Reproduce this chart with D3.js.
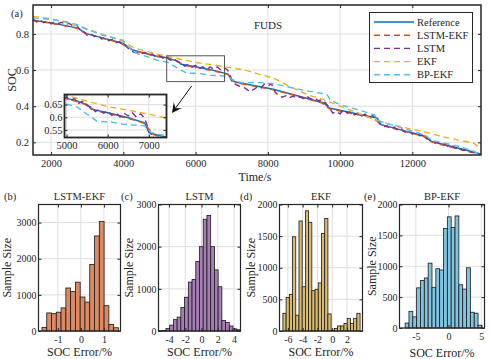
<!DOCTYPE html>
<html>
<head>
<meta charset="utf-8">
<script src="https://cdn.jsdelivr.net/npm/d3@7"></script>
<style>
  body { margin: 0; background: #fff; }
  svg { font-family: "Liberation Serif", "Times New Roman", serif; }
</style>
</head>
<body>
<script>
// ---- data ----
const legendNames = ["Reference", "LSTM-EKF", "LSTM", "EKF", "BP-EKF"];

const refTime = [1500, 2000, 2750, 2950, 4000, 4250, 4900, 5200, 5500, 5600, 6000, 6500, 6900, 7000, 7200, 8150, 9550, 9700, 11030, 11130, 12370, 12510, 13800, 13900];
const refSoc = [0.876, 0.861, 0.832, 0.803, 0.748, 0.712, 0.678, 0.668, 0.650, 0.632, 0.618, 0.598, 0.578, 0.540, 0.530, 0.494, 0.418, 0.390, 0.334, 0.298, 0.233, 0.206, 0.141, 0.132];

const fineTime = [1500, 1700, 1900, 2100, 2300, 2500, 2700, 2900, 3100, 3300, 3500, 3700, 3900, 4100, 4300, 4500, 4700, 4900, 5100, 5300, 5500, 5700, 5900, 6100, 6300, 6500, 6700, 6900, 7100, 7300, 7500, 7700, 7900, 8100, 8300, 8500, 8700, 8900, 9100, 9300, 9500, 9700, 9900, 10100, 10300, 10500, 10700, 10900, 11100, 11300, 11500, 11700, 11900, 12100, 12300, 12500, 12700, 12900, 13100, 13300, 13500, 13700, 13900];
const lstmEkfSoc = [0.874, 0.869, 0.862, 0.855, 0.848, 0.840, 0.832, 0.808, 0.796, 0.783, 0.772, 0.762, 0.750, 0.730, 0.707, 0.697, 0.686, 0.676, 0.669, 0.660, 0.647, 0.626, 0.619, 0.612, 0.603, 0.595, 0.586, 0.575, 0.532, 0.523, 0.516, 0.508, 0.500, 0.493, 0.483, 0.472, 0.462, 0.451, 0.440, 0.429, 0.418, 0.386, 0.377, 0.369, 0.361, 0.352, 0.344, 0.335, 0.305, 0.286, 0.276, 0.265, 0.255, 0.244, 0.234, 0.205, 0.192, 0.182, 0.172, 0.162, 0.152, 0.142, 0.130];

const lstmTime = [1500, 1600, 1700, 1800, 1900, 2000, 2100, 2200, 2300, 2400, 2500, 2600, 2700, 2800, 2900, 3000, 3100, 3200, 3300, 3400, 3500, 3600, 3700, 3800, 3900, 4000, 4100, 4200, 4300, 4400, 4500, 4600, 4700, 4800, 4900, 5000, 5100, 5200, 5300, 5400, 5500, 5600, 5700, 5800, 5900, 6000, 6100, 6200, 6300, 6400, 6500, 6600, 6700, 6800, 6900, 7000, 7100, 7200, 7300, 7400, 7500, 7600, 7700, 7800, 7900, 8000, 8100, 8200, 8300, 8400, 8500, 8600, 8700, 8800, 8900, 9000, 9100, 9200, 9300, 9400, 9500, 9600, 9700, 9800, 9900, 10000, 10100, 10200, 10300, 10400, 10500, 10600, 10700, 10800, 10900, 11000, 11100, 11200, 11300, 11400, 11500, 11600, 11700, 11800, 11900, 12000, 12100, 12200, 12300, 12400, 12500, 12600, 12700, 12800, 12900, 13000, 13100, 13200, 13300, 13400, 13500, 13600, 13700, 13800, 13900];
const lstmSoc = [0.882, 0.866, 0.878, 0.862, 0.874, 0.856, 0.866, 0.858, 0.864, 0.852, 0.858, 0.846, 0.850, 0.822, 0.814, 0.792, 0.801, 0.786, 0.793, 0.772, 0.779, 0.763, 0.770, 0.751, 0.757, 0.742, 0.726, 0.708, 0.698, 0.696, 0.690, 0.698, 0.682, 0.690, 0.672, 0.681, 0.666, 0.676, 0.655, 0.664, 0.646, 0.640, 0.622, 0.632, 0.616, 0.626, 0.608, 0.618, 0.602, 0.616, 0.605, 0.618, 0.600, 0.614, 0.596, 0.548, 0.522, 0.512, 0.508, 0.496, 0.480, 0.492, 0.505, 0.498, 0.522, 0.512, 0.524, 0.478, 0.458, 0.450, 0.458, 0.446, 0.456, 0.444, 0.452, 0.440, 0.452, 0.438, 0.446, 0.430, 0.436, 0.418, 0.392, 0.362, 0.370, 0.358, 0.380, 0.362, 0.372, 0.352, 0.364, 0.346, 0.356, 0.338, 0.348, 0.330, 0.302, 0.286, 0.292, 0.276, 0.284, 0.266, 0.274, 0.256, 0.262, 0.246, 0.254, 0.236, 0.241, 0.220, 0.212, 0.196, 0.200, 0.186, 0.190, 0.175, 0.180, 0.166, 0.170, 0.156, 0.160, 0.146, 0.149, 0.137, 0.130];

const ekfTime = [1500, 2000, 2450, 2900, 3400, 4000, 4300, 4950, 5500, 6000, 6500, 7000, 7400, 7700, 8150, 8650, 9100, 9550, 10000, 10500, 10950, 11400, 11850, 12300, 12800, 13250, 13700, 13900];
const ekfSoc = [0.897, 0.884, 0.862, 0.832, 0.800, 0.758, 0.722, 0.688, 0.664, 0.642, 0.628, 0.612, 0.598, 0.580, 0.556, 0.505, 0.463, 0.436, 0.400, 0.362, 0.326, 0.298, 0.279, 0.260, 0.233, 0.214, 0.195, 0.165];

const bpTime = [1500, 2000, 2400, 2750, 2950, 3400, 3900, 4000, 4100, 4400, 4700, 4950, 5250, 5500, 5750, 6050, 6400, 6900, 7050, 7300, 7700, 8150, 8600, 9000, 9500, 9650, 9720, 10000, 10500, 10950, 11050, 11400, 11850, 12350, 12550, 13250, 13700, 13900];
const bpSoc = [0.889, 0.880, 0.868, 0.850, 0.830, 0.795, 0.770, 0.765, 0.735, 0.690, 0.672, 0.654, 0.641, 0.612, 0.583, 0.582, 0.572, 0.566, 0.540, 0.530, 0.532, 0.525, 0.505, 0.488, 0.470, 0.462, 0.435, 0.408, 0.380, 0.352, 0.320, 0.298, 0.272, 0.240, 0.210, 0.180, 0.150, 0.132];

// histogram counts per bin
const histLstmEkf = [100, 500, 480, 520, 640, 1190, 1090, 1350, 940, 800, 1840, 2630, 3030, 700, 180, 90];
const histLstm = [5, 15, 60, 140, 270, 330, 560, 800, 1160, 1220, 1650, 2000, 2650, 2740, 2000, 1450, 1050, 250, 200, 120, 50, 30];
const histEkf = [280, 530, 580, 1490, 250, 1740, 700, 1900, 1720, 640, 660, 760, 1540, 1780, 270, 10, 40, 80, 80, 120, 200, 120, 200, 280];
const histBpEkf = [80, 270, 180, 650, 770, 810, 1050, 660, 960, 940, 1610, 1800, 1630, 1815, 700, 630, 975, 255, 240, 45];

const mainXTicks = [2000, 4000, 6000, 8000, 10000, 12000];
const mainYTicks = [0.2, 0.4, 0.6, 0.8];
const insetXTicks = [5000, 6000, 7000];
const insetYTicks = [0.55, 0.6, 0.65];

// ---- drawing ----
const ink = "#262626";
const gridCol = "#dedede";
const serif = '"Liberation Serif", "Times New Roman", serif';

const svg = d3.select("body").append("svg")
  .attr("width", 491)
  .attr("height", 359);

function drawGrid(g, x, y, xt, yt) {
  const [l, r] = x.range();
  const [b, t] = y.range();
  g.append("g").selectAll("line").data(xt).join("line")
    .attr("x1", d => x(d)).attr("x2", d => x(d))
    .attr("y1", b).attr("y2", t)
    .attr("stroke", gridCol).attr("stroke-width", 1);
  g.append("g").selectAll("line").data(yt).join("line")
    .attr("x1", l).attr("x2", r)
    .attr("y1", d => y(d)).attr("y2", d => y(d))
    .attr("stroke", gridCol).attr("stroke-width", 1);
}

function drawFrame(g, x, y, xt, yt, fs, sw, pad) {
  const [l, r] = x.range();
  const [b, t] = y.range();
  const fmt = d => String(d);
  const styleAxis = (a) => {
    a.select(".domain").remove();
    a.attr("font-family", serif).attr("font-size", fs);
    a.selectAll("line").attr("stroke", ink);
    a.selectAll("text").attr("fill", ink);
  };
  g.append("g").attr("transform", `translate(0,${b})`)
    .call(d3.axisBottom(x).tickValues(xt).tickFormat(fmt).tickSize(-3).tickPadding(pad[0]))
    .call(styleAxis);
  g.append("g").attr("transform", `translate(0,${t})`)
    .call(d3.axisTop(x).tickValues(xt).tickFormat("").tickSize(-3))
    .call(styleAxis);
  g.append("g").attr("transform", `translate(${l},0)`)
    .call(d3.axisLeft(y).tickValues(yt).tickFormat(fmt).tickSize(-3).tickPadding(pad[1]))
    .call(styleAxis);
  g.append("g").attr("transform", `translate(${r},0)`)
    .call(d3.axisRight(y).tickValues(yt).tickFormat("").tickSize(-3))
    .call(styleAxis);
  g.append("rect")
    .attr("x", l).attr("y", t)
    .attr("width", r - l).attr("height", b - t)
    .attr("fill", "none").attr("stroke", ink).attr("stroke-width", sw);
}

function label(txt, x, y, fs, opts = {}) {
  const t = svg.append("text")
    .attr("font-family", serif)
    .attr("font-size", fs)
    .attr("fill", ink)
    .attr("text-anchor", opts.anchor || "start")
    .text(txt);
  if (opts.rotate) t.attr("transform", `translate(${x},${y}) rotate(-90)`);
  else t.attr("x", x).attr("y", y);
  return t;
}

// main SOC plot
const x = d3.scaleLinear([1500, 13900], [33, 481]);
const y = d3.scaleLinear([0.13, 0.96], [155, 5]);

const series = [
  { time: refTime, soc: refSoc, color: "#0072BD", dash: null },
  { time: fineTime, soc: lstmEkfSoc, color: "#D95319", dash: "6,4" },
  { time: lstmTime, soc: lstmSoc, color: "#7E2F8E", dash: "6,4" },
  { time: ekfTime, soc: ekfSoc, color: "#EDB120", dash: "6,4" },
  { time: bpTime, soc: bpSoc, color: "#4DBEEE", dash: "6,4" },
];

svg.append("clipPath").attr("id", "clipMain")
  .append("rect").attr("x", 33).attr("y", 5).attr("width", 448).attr("height", 150);

const main = svg.append("g");
drawGrid(main, x, y, mainXTicks, mainYTicks);

const lineMain = d3.line().x(d => x(d[0])).y(d => y(d[1]));
main.append("g").attr("clip-path", "url(#clipMain)")
  .selectAll("path").data(series).join("path")
  .attr("d", s => lineMain(d3.zip(s.time, s.soc)))
  .attr("fill", "none")
  .attr("stroke", s => s.color)
  .attr("stroke-width", 1.4)
  .attr("stroke-dasharray", s => s.dash);

// zoom box and arrow
main.append("rect")
  .attr("x", x(5200)).attr("y", y(0.679))
  .attr("width", x(6800) - x(5200)).attr("height", y(0.536) - y(0.679))
  .attr("fill", "none").attr("stroke", "#555").attr("stroke-width", 1);

const a0 = [x(5892), y(0.512)], a1 = [x(5347), y(0.362)];
const ang = Math.atan2(a1[1] - a0[1], a1[0] - a0[0]);
main.append("line")
  .attr("x1", a0[0]).attr("y1", a0[1])
  .attr("x2", a1[0] - 6 * Math.cos(ang)).attr("y2", a1[1] - 6 * Math.sin(ang))
  .attr("stroke", "#111").attr("stroke-width", 1);
const hl = 10, hw = 5;
main.append("path")
  .attr("d", `M${a1[0]},${a1[1]}
    L${a1[0] - hl * Math.cos(ang) + hw * Math.sin(ang)},${a1[1] - hl * Math.sin(ang) - hw * Math.cos(ang)}
    L${a1[0] - 0.6 * hl * Math.cos(ang)},${a1[1] - 0.6 * hl * Math.sin(ang)}
    L${a1[0] - hl * Math.cos(ang) - hw * Math.sin(ang)},${a1[1] - hl * Math.sin(ang) + hw * Math.cos(ang)}Z`)
  .attr("fill", "#111");

drawFrame(main, x, y, mainXTicks, mainYTicks, 10.5, 1.5, [5, 4]);

// inset
const xi = d3.scaleLinear([4950, 7430], [64.5, 166.5]);
const yi = d3.scaleLinear([0.52, 0.69], [137.5, 94.5]);
svg.append("clipPath").attr("id", "clipInset")
  .append("rect").attr("x", 64.5).attr("y", 94.5).attr("width", 102).attr("height", 43);
const inset = svg.append("g");
inset.append("rect").attr("x", 64.5).attr("y", 94.5).attr("width", 102).attr("height", 43).attr("fill", "#fff");
drawGrid(inset, xi, yi, insetXTicks, insetYTicks);
const lineInset = d3.line().x(d => xi(d[0])).y(d => yi(d[1]));
inset.append("g").attr("clip-path", "url(#clipInset)")
  .selectAll("path").data(series).join("path")
  .attr("d", s => lineInset(d3.zip(s.time, s.soc)))
  .attr("fill", "none")
  .attr("stroke", s => s.color)
  .attr("stroke-width", 1.4)
  .attr("stroke-dasharray", s => s.dash);
drawFrame(inset, xi, yi, insetXTicks, insetYTicks, 10.5, 1.8, [4, 2]);

// legend
const lg = svg.append("g");
lg.append("rect").attr("x", 369.5).attr("y", 12.5).attr("width", 103).attr("height", 70)
  .attr("fill", "#fff").attr("stroke", ink).attr("stroke-width", 1);
legendNames.forEach((n, i) => {
  const ly = 22 + i * 13.2;
  lg.append("line").attr("x1", 374).attr("x2", 414).attr("y1", ly).attr("y2", ly)
    .attr("stroke", series[i].color).attr("stroke-width", 1.4)
    .attr("stroke-dasharray", series[i].dash);
  lg.append("text").attr("x", 417).attr("y", ly + 3.6)
    .attr("font-family", serif).attr("font-size", 10.5).attr("fill", ink).text(n);
});

label("(a)", 11, 16.5, 10.5);
label("FUDS", 254, 29, 11);
label("SOC", 16, 80, 12, { anchor: "middle", rotate: true });
label("Time/s", 255, 181, 12, { anchor: "middle" });

// histograms
const panels = [
  { tag: "(b)", title: "LSTM-EKF", counts: histLstmEkf, start: -1.69, width: 0.2075,
    xd: [-1.84, 1.72], yd: [0, 3500], xt: [-1, 0, 1], yt: [0, 1000, 2000, 3000],
    box: [38.5, 120.5, 331, 204.5], fill: "#DC8A63", tagX: 4, ylX: 11, titleX: 79.5, xlY: 356 },
  { tag: "(c)", title: "LSTM", counts: histLstm, start: -5.3, width: 0.459,
    xd: [-5.3, 4.8], yd: [0, 3000], xt: [-4, -2, 0, 2, 4], yt: [0, 1000, 2000, 3000],
    box: [158.5, 240.5, 331, 204.5], fill: "#A77DB6", tagX: 121, ylX: 133, titleX: 199.5, xlY: 356 },
  { tag: "(d)", title: "EKF", counts: histEkf, start: -6.67, width: 0.435,
    xd: [-7.13, 4.1], yd: [0, 2000], xt: [-6, -4, -2, 0, 2], yt: [0, 500, 1000, 1500, 2000],
    box: [279.5, 362.5, 331, 204.5], fill: "#D8BB70", tagX: 240, ylX: 255, titleX: 321, xlY: 356 },
  { tag: "(e)", title: "BP-EKF", counts: histBpEkf, start: -6.64, width: 0.587,
    xd: [-7.5, 5.5], yd: [0, 2000], xt: [-5, 0, 5], yt: [0, 500, 1000, 1500, 2000],
    box: [399.5, 484.5, 328, 204.5], fill: "#80C4E1", tagX: 364, ylX: 376, titleX: 442, xlY: 357 },
];

panels.forEach(p => {
  const [l, r, b, t] = p.box;
  const hx = d3.scaleLinear(p.xd, [l, r]);
  const hy = d3.scaleLinear(p.yd, [b, t]);
  const g = svg.append("g");
  drawGrid(g, hx, hy, p.xt, p.yt);
  g.append("g").selectAll("rect").data(p.counts).join("rect")
    .attr("x", (d, i) => hx(p.start + i * p.width))
    .attr("width", (d, i) => hx(p.start + (i + 1) * p.width) - hx(p.start + i * p.width))
    .attr("y", d => hy(d))
    .attr("height", d => hy(0) - hy(d))
    .attr("fill", p.fill)
    .attr("stroke", "#1a1a1a")
    .attr("stroke-width", 0.8);
  drawFrame(g, hx, hy, p.xt, p.yt, 10, 1.2, [5, 2]);
  label(p.tag, p.tagX, 200, 10.5);
  label(p.title, p.titleX, 200, 10.5, { anchor: "middle" });
  label("Sample Size", p.ylX, (t + b) / 2, 12, { anchor: "middle", rotate: true });
  label("SOC Error/%", (l + r) / 2, p.xlY, 12, { anchor: "middle" });
});
</script>
</body>
</html>
